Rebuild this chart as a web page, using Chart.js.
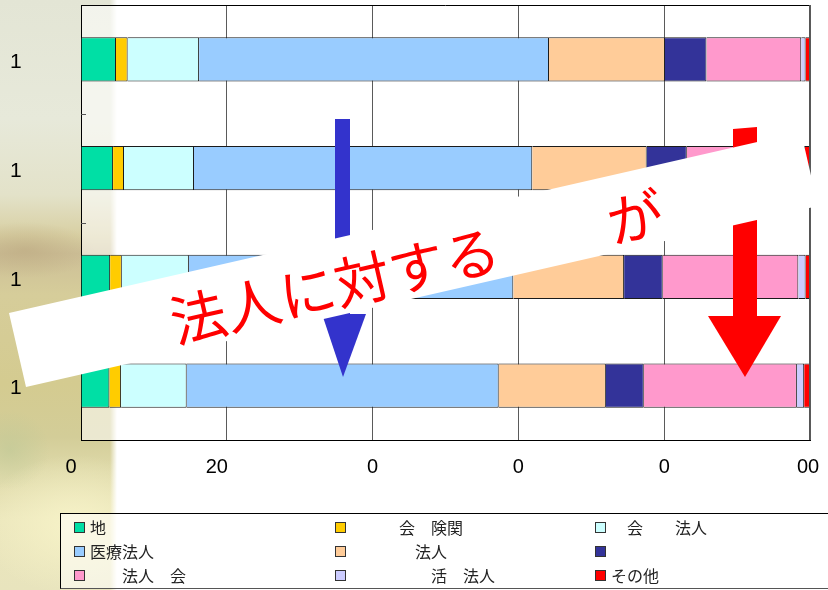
<!DOCTYPE html>
<html lang="ja">
<head>
<meta charset="utf-8">
<script src="https://cdn.jsdelivr.net/npm/chart.js@4.4.1/dist/chart.umd.min.js"></script>
<style>
    html, body { margin: 0; padding: 0; background: #fff; }
    body { width: 828px; height: 590px; position: relative; overflow: hidden; }
    #bg {
        position: absolute; left: 0; top: 0; width: 118px; height: 590px;
        background:
            radial-gradient(ellipse 95px 70px at 75px 525px, rgba(247,243,200,0.95), rgba(247,243,200,0) 100%),
            radial-gradient(ellipse 70px 28px at 25px 250px, rgba(185,165,125,0.55), rgba(185,165,125,0)),
            radial-gradient(ellipse 40px 40px at 10px 450px, rgba(190,200,150,0.6), rgba(190,200,150,0)),
            linear-gradient(to bottom, #e3e5d5 0%, #e7e9da 20%, #e3e2c9 33%, #d8cfa2 40%, #cdbf97 43%, #d6cd9a 50%, #d4cb90 65%, #d3cd98 74%, #dfdaaa 80%, #ebe6bc 88%, #e8e4bd 100%);
        -webkit-mask-image: linear-gradient(to right, #000 110px, transparent 117px);
        mask-image: linear-gradient(to right, #000 110px, transparent 117px);
    }
    #chart { position: absolute; left: 0; top: 0; }
    #legend {
        position: absolute; left: 60px; top: 513px; width: 790px; height: 76px;
        box-sizing: border-box; border: 1px solid #000; border-bottom-color: #555;
        background: rgba(255,255,255,0.55);
        font: 16px "Noto Sans CJK JP", sans-serif; color: #222;
    }
    #legend .item { position: absolute; height: 24px; display: flex; align-items: center; white-space: pre; }
    #legend .swatch { width: 9px; height: 9px; border: 1px solid #333; margin-right: 5px; flex: none; }
</style>
</head>
<body>
<div id="bg"></div>
<canvas id="chart" width="828" height="590"></canvas>
<div id="legend"></div>
<script>
// categories and tick labels
const categories = ['1', '1', '1', '1'];
const xTickLabels = ['0\u2002\u2002', '20\u2002\u2002', '0', '0', '0', '00\u2009'];

// shares per bar (%), left to right in the stack
const localGov        = [4.8, 4.4, 4.0, 3.9];
const socialInsurance = [1.6, 1.5, 1.6, 1.6];
const welfareCorp     = [9.8, 9.6, 9.2, 9.0];
const medicalCorp     = [48.0, 46.4, 44.5, 42.8];
const publicCorp      = [15.9, 15.7, 15.2, 14.7];
const individual      = [5.7, 5.5, 5.3, 5.2];
const schoolCorp      = [13.0, 15.5, 18.6, 21.0];
const npoCorp         = [0.6, 0.7, 1.0, 1.0];
const others          = [0.6, 0.7, 0.6, 0.8];

const seriesNames = ['地', '　　　会　険関', '　会　　法人', '医療法人', '　　　　法人', '', '　　法人　会', '　　　　　活　法人', 'その他'];
const seriesData = [localGov, socialInsurance, welfareCorp, medicalCorp, publicCorp, individual, schoolCorp, npoCorp, others];
const seriesColors = ['#00DFA5', '#FFCC00', '#CCFFFF', '#99CCFF', '#FFCC99', '#333399', '#FF99CC', '#CCCCFF', '#FF0000'];

const decor = {
    id: 'decor',
    beforeDraw(chart) {
        const { ctx, chartArea: a } = chart;
        ctx.save();
        ctx.fillStyle = 'rgba(255,255,255,0.55)';
        ctx.fillRect(a.left, a.top, a.right - a.left, a.bottom - a.top);
        ctx.restore();
    },
    afterDatasetsDraw(chart) {
        const { ctx, chartArea: a } = chart;
        const y = chart.scales.y;
        ctx.save();
        // frame: top black, right grey
        ctx.lineWidth = 1;
        ctx.strokeStyle = '#000';
        ctx.beginPath();
        ctx.moveTo(a.left, a.top + 0.5);
        ctx.lineTo(a.right, a.top + 0.5);
        ctx.stroke();
        ctx.strokeStyle = '#555';
        ctx.beginPath();
        ctx.moveTo(a.right - 0.5, a.top);
        ctx.lineTo(a.right - 0.5, a.bottom);
        ctx.stroke();
        // short inward marks between categories
        for (let i = 0; i < categories.length - 1; i++) {
            const yy = Math.round((y.getPixelForValue(i) + y.getPixelForValue(i + 1)) / 2) + 0.5;
            ctx.beginPath();
            ctx.moveTo(a.left, yy);
            ctx.lineTo(a.left + 5, yy);
            ctx.stroke();
        }
        ctx.restore();
    },
    afterDraw(chart) {
        const { ctx } = chart;
        ctx.save();
        // blue arrow
        ctx.fillStyle = '#3333CC';
        ctx.fillRect(335, 119, 15, 200);
        ctx.beginPath();
        ctx.moveTo(322, 314); ctx.lineTo(366, 314); ctx.lineTo(343, 377);
        ctx.closePath(); ctx.fill();
        // red arrow
        ctx.fillStyle = '#FF0000';
        ctx.beginPath();
        ctx.moveTo(733, 129); ctx.lineTo(757, 127); ctx.lineTo(757, 318); ctx.lineTo(733, 318);
        ctx.closePath(); ctx.fill();
        ctx.beginPath();
        ctx.moveTo(708, 316); ctx.lineTo(781, 316); ctx.lineTo(745, 377);
        ctx.closePath(); ctx.fill();
        // tilted white banner
        ctx.fillStyle = '#fff';
        ctx.beginPath();
        ctx.moveTo(9, 313); ctx.lineTo(801, 132); ctx.lineTo(818, 206); ctx.lineTo(26, 387);
        ctx.closePath(); ctx.fill();
        // banner text
        ctx.translate(171, 323);
        ctx.rotate(-Math.atan2(181, 792));
        ctx.fillStyle = '#FF0000';
        ctx.font = '56px "Noto Sans CJK JP"';
        ctx.textBaseline = 'middle';
        ctx.fillText('法人に対する　　が', 0, 0);
        ctx.restore();
    }
};

const chart = new Chart(document.getElementById('chart'), {
    type: 'bar',
    data: {
        labels: categories,
        datasets: seriesData.map((d, i) => ({
            label: seriesNames[i],
            data: d,
            backgroundColor: seriesColors[i],
            borderColor: '#1a1a1a',
            borderWidth: 1,
            borderSkipped: 'start',
            barPercentage: 0.405,
            categoryPercentage: 1
        }))
    },
    options: {
        indexAxis: 'y',
        responsive: false,
        animation: false,
        devicePixelRatio: 1,
        layout: { padding: { left: 10, top: 5, right: 18, bottom: 0 } },
        plugins: { legend: { display: false }, tooltip: { enabled: false } },
        scales: {
            x: {
                stacked: true,
                min: 0,
                max: 100,
                ticks: {
                    stepSize: 20,
                    autoSkip: false,
                    maxRotation: 0,
                    padding: 0,
                    color: '#000',
                    font: { family: '"Liberation Sans", Arial', size: 20 },
                    callback: (v, i) => xTickLabels[i]
                },
                // invisible tick marks push the labels down without widening the side padding
                grid: { color: '#5a5a5a', drawTicks: true, tickLength: 15, tickColor: 'rgba(0,0,0,0)' },
                border: { color: '#000' },
                afterFit: s => { s.height = 150; }
            },
            y: {
                stacked: true,
                ticks: {
                    crossAlign: 'far',
                    padding: 0,
                    labelOffset: 3,
                    color: '#000',
                    font: { family: '"Liberation Sans", Arial', size: 21, lineHeight: 0.4 }
                },
                grid: { display: false, drawTicks: false },
                border: { color: '#000' },
                afterFit: s => { s.width = 71; }
            }
        }
    },
    plugins: [decor]
});

// legend in three fixed columns, filled row by row
const legendEl = document.getElementById('legend');
const colLeft = [13, 274, 534];
const rowTop = [1, 25, 49];
seriesNames.forEach((name, k) => {
    const item = document.createElement('div');
    item.className = 'item';
    item.style.left = colLeft[k % 3] + 'px';
    item.style.top = rowTop[Math.floor(k / 3)] + 'px';
    item.innerHTML = `<span class="swatch" style="background:${seriesColors[k]}"></span><span>${name}</span>`;
    legendEl.appendChild(item);
});
</script>
</body>
</html>
